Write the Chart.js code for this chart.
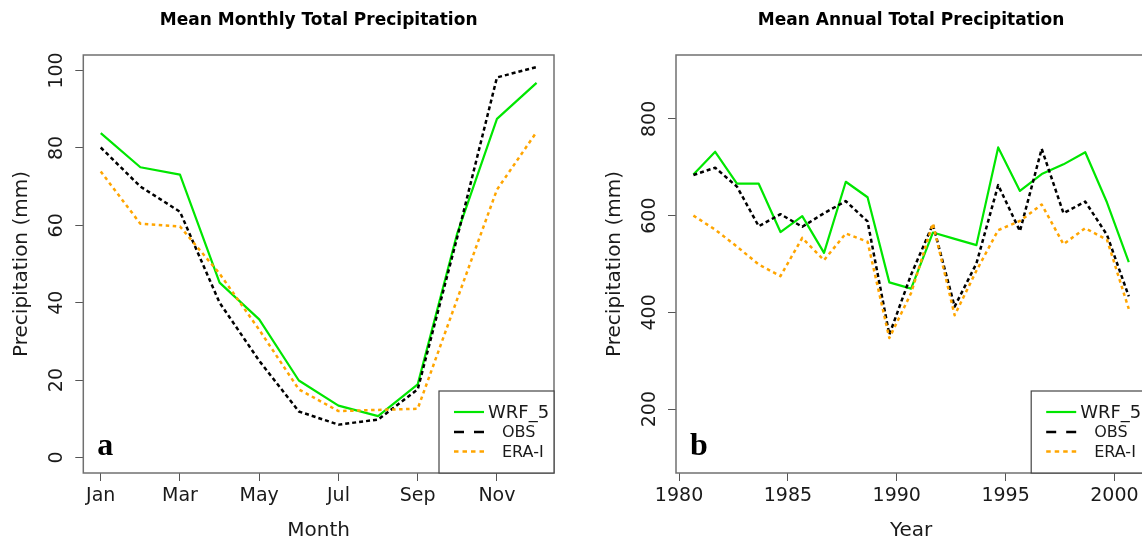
<!DOCTYPE html>
<html>
<head>
<meta charset="utf-8">
<title>Mean Total Precipitation</title>
<script src="https://cdn.jsdelivr.net/npm/chart.js@4.4.1/dist/chart.umd.min.js"></script>
<style>
  html, body { margin: 0; padding: 0; background: #fff; overflow: hidden; }
  #wrap { position: relative; width: 1142px; height: 543px; overflow: hidden; }
  #monthly { position: absolute; left: 0; top: 0; }
  #annual { position: absolute; left: 571px; top: 0; }
</style>
</head>
<body>
<div id="wrap">
  <canvas id="monthly" width="571" height="543"></canvas>
  <canvas id="annual" width="590" height="543"></canvas>
</div>
<script>
'use strict'

// panel a: monthly means (mm)
const months = [1, 2, 3, 4, 5, 6, 7, 8, 9, 10, 11, 12];
const wrfMonthly = [83.8, 75.0, 73.1, 45.2, 35.7, 19.9, 13.4, 10.7, 18.9, 58.0, 87.5, 96.8];
const obsMonthly = [80.1, 70.0, 63.5, 40.0, 25.0, 11.9, 8.5, 9.8, 17.6, 57.0, 98.2, 100.9];
const eraMonthly = [73.9, 60.4, 59.7, 47.5, 33.0, 17.6, 12.0, 12.3, 12.6, 41.0, 69.2, 84.1];
const monthTicks = [1, 3, 5, 7, 9, 11];
const monthTickLabels = ['Jan', 'Mar', 'May', 'Jul', 'Sep', 'Nov'];
const monthlyYTicks = [0, 20, 40, 60, 80, 100];

// panel b: annual totals (mm)
const years = [1980.66, 1981.66, 1982.66, 1983.66, 1984.66, 1985.66, 1986.66, 1987.66, 1988.66, 1989.66,
  1990.66, 1991.66, 1992.66, 1993.66, 1994.66, 1995.66, 1996.66, 1997.66, 1998.66, 1999.66, 2000.66];
const wrfAnnual = [685, 732, 666, 666, 566, 599, 523, 670, 638, 462, 449, 565, 552, 539, 741, 651, 686, 706, 731, 627, 504];
const obsAnnual = [684, 699, 660, 578, 603, 577, 605, 630, 588, 354, 478, 582, 412, 501, 663, 568, 738, 605, 629, 560, 433];
const eraAnnual = [600, 571, 536, 499, 475, 554, 508, 563, 546, 347, 440, 584, 394, 486, 570, 589, 623, 541, 574, 550, 407];
const yearTicks = [1980, 1985, 1990, 1995, 2000];
const annualYTicks = [200, 400, 600, 800];

const seriesNames = ['WRF_5', 'OBS', 'ERA-I'];

Chart.defaults.font.family = '"DejaVu Sans", sans-serif';
Chart.defaults.color = '#1a1a1a';

const GREEN = '#00e600';
const ORANGE = '#ffa500';

function toPoints(xs, ys) {
	return xs.map((x, i) => ({x: x, y: ys[i]}));
}

function makeDatasets(xs, wrf, obs, era) {
	return [
		{label: seriesNames[0], data: toPoints(xs, wrf), borderColor: GREEN, borderWidth: 2.2, order: 3,
			legendDash: [], legendWidth: 2.2},
		{label: seriesNames[1], data: toPoints(xs, obs), borderColor: '#000', borderWidth: 2.5, borderDash: [4, 3], order: 2,
			legendDash: [10, 10], legendWidth: 2.5},
		{label: seriesNames[2], data: toPoints(xs, era), borderColor: ORANGE, borderWidth: 2.5, borderDash: [3.5, 3.5], order: 1,
			legendDash: [4.5, 4], legendWidth: 2.5},
	];
}

// box, rotated y labels, title, panel letter and legend
const frame = {
	id: 'frame',
	afterDraw(chart, args, opts) {
		const {ctx, chartArea: a, scales: {y}} = chart;
		ctx.save();

		ctx.strokeStyle = '#707070';
		ctx.lineWidth = 1.5;
		ctx.strokeRect(a.left, a.top, a.right - a.left, a.bottom - a.top);

		ctx.fillStyle = '#1a1a1a';
		ctx.font = '19px "DejaVu Sans"';
		ctx.textAlign = 'center';
		ctx.textBaseline = 'middle';
		opts.yTicks.forEach(v => {
			ctx.save();
			ctx.translate(a.left - 26, y.getPixelForValue(v));
			ctx.rotate(-Math.PI / 2);
			ctx.fillText(String(v), 0, 0);
			ctx.restore();
		});

		ctx.fillStyle = '#000';
		ctx.font = 'bold 17px "DejaVu Sans"';
		ctx.fillText(opts.title, (a.left + a.right) / 2, 21);

		ctx.font = 'bold 32px "Liberation Serif"';
		ctx.textAlign = 'left';
		ctx.textBaseline = 'alphabetic';
		ctx.fillText(opts.letter, a.left + 14, 455);

		// legend
		const lx = a.right - 115, ly = 391;
		ctx.fillStyle = '#fff';
		ctx.fillRect(lx, ly, 115, a.bottom - ly);
		ctx.strokeStyle = '#444';
		ctx.lineWidth = 1.2;
		ctx.strokeRect(lx, ly, 115, a.bottom - ly);
		const rows = [{dy: 21, size: 18, tx: 49}, {dy: 41, size: 16, tx: 63}, {dy: 60.5, size: 16, tx: 63}];
		chart.data.datasets.forEach((ds, i) => {
			const r = rows[i];
			const yy = ly + r.dy;
			ctx.beginPath();
			ctx.setLineDash(ds.legendDash);
			ctx.strokeStyle = ds.borderColor;
			ctx.lineWidth = ds.legendWidth;
			ctx.moveTo(lx + 15, yy);
			ctx.lineTo(lx + 45, yy);
			ctx.stroke();
			ctx.setLineDash([]);
			ctx.fillStyle = '#1a1a1a';
			ctx.font = r.size + 'px "DejaVu Sans"';
			ctx.textBaseline = 'middle';
			ctx.fillText(ds.label, lx + r.tx, yy + 1);
		});
		ctx.restore();
	},
};

function panel(canvasId, cfg) {
	return new Chart(document.getElementById(canvasId), {
		type: 'line',
		data: {datasets: cfg.datasets},
		options: {
			responsive: false,
			animation: false,
			events: [],
			layout: {padding: {left: 0, top: 55, right: cfg.padRight, bottom: 0}},
			elements: {
				point: {radius: 0},
				line: {tension: 0, borderCapStyle: 'butt', borderJoinStyle: 'round'},
			},
			plugins: {
				legend: {display: false},
				tooltip: {enabled: false},
				frame: cfg.frame,
			},
			scales: {
				x: {
					type: 'linear',
					min: cfg.xMin,
					max: cfg.xMax,
					afterBuildTicks: s => { s.ticks = cfg.xTicks.map(v => ({value: v})); },
					afterFit: s => { s.height = 70; },
					grid: {drawOnChartArea: false, drawTicks: true, tickLength: 8, color: '#555', lineWidth: 1},
					border: {display: false},
					ticks: {
						font: {size: 19},
						color: '#1a1a1a',
						padding: 4,
						maxRotation: 0,
						autoSkip: false,
						callback: cfg.xLabel,
					},
					title: {display: true, text: cfg.xTitle, font: {size: 20}, color: '#1a1a1a', padding: {top: 0, bottom: 0}},
				},
				y: {
					type: 'linear',
					min: cfg.yMin,
					max: cfg.yMax,
					afterBuildTicks: s => { s.ticks = cfg.frame.yTicks.map(v => ({value: v})); },
					afterFit: s => { s.width = cfg.yWidth; },
					grid: {drawOnChartArea: false, drawTicks: true, tickLength: 8, color: '#555', lineWidth: 1},
					border: {display: false},
					ticks: {display: false},
					title: {display: true, text: 'Precipitation (mm)', font: {size: 20}, color: '#1a1a1a',
						padding: {top: cfg.yTitlePad, bottom: 0}},
				},
			},
		},
		plugins: [frame],
	});
}

panel('monthly', {
	datasets: makeDatasets(months, wrfMonthly, obsMonthly, eraMonthly),
	padRight: 17,
	xMin: 0.56, xMax: 12.44,
	yMin: -4, yMax: 104,
	xTicks: monthTicks,
	xLabel: (v, i) => monthTickLabels[i],
	xTitle: 'Month',
	yWidth: 83.3,
	yTitlePad: 10,
	frame: {title: 'Mean Monthly Total Precipitation', letter: 'a', yTicks: monthlyYTicks},
});

panel('annual', {
	datasets: makeDatasets(years, wrfAnnual, obsAnnual, eraAnnual),
	padRight: 14.8,
	xMin: 1979.86, xMax: 2001.46,
	yMin: 68, yMax: 932,
	xTicks: yearTicks,
	xLabel: v => String(v),
	xTitle: 'Year',
	yWidth: 105,
	yTitlePad: 31.7,
	frame: {title: 'Mean Annual Total Precipitation', letter: 'b', yTicks: annualYTicks},
});
</script>
</body>
</html>
